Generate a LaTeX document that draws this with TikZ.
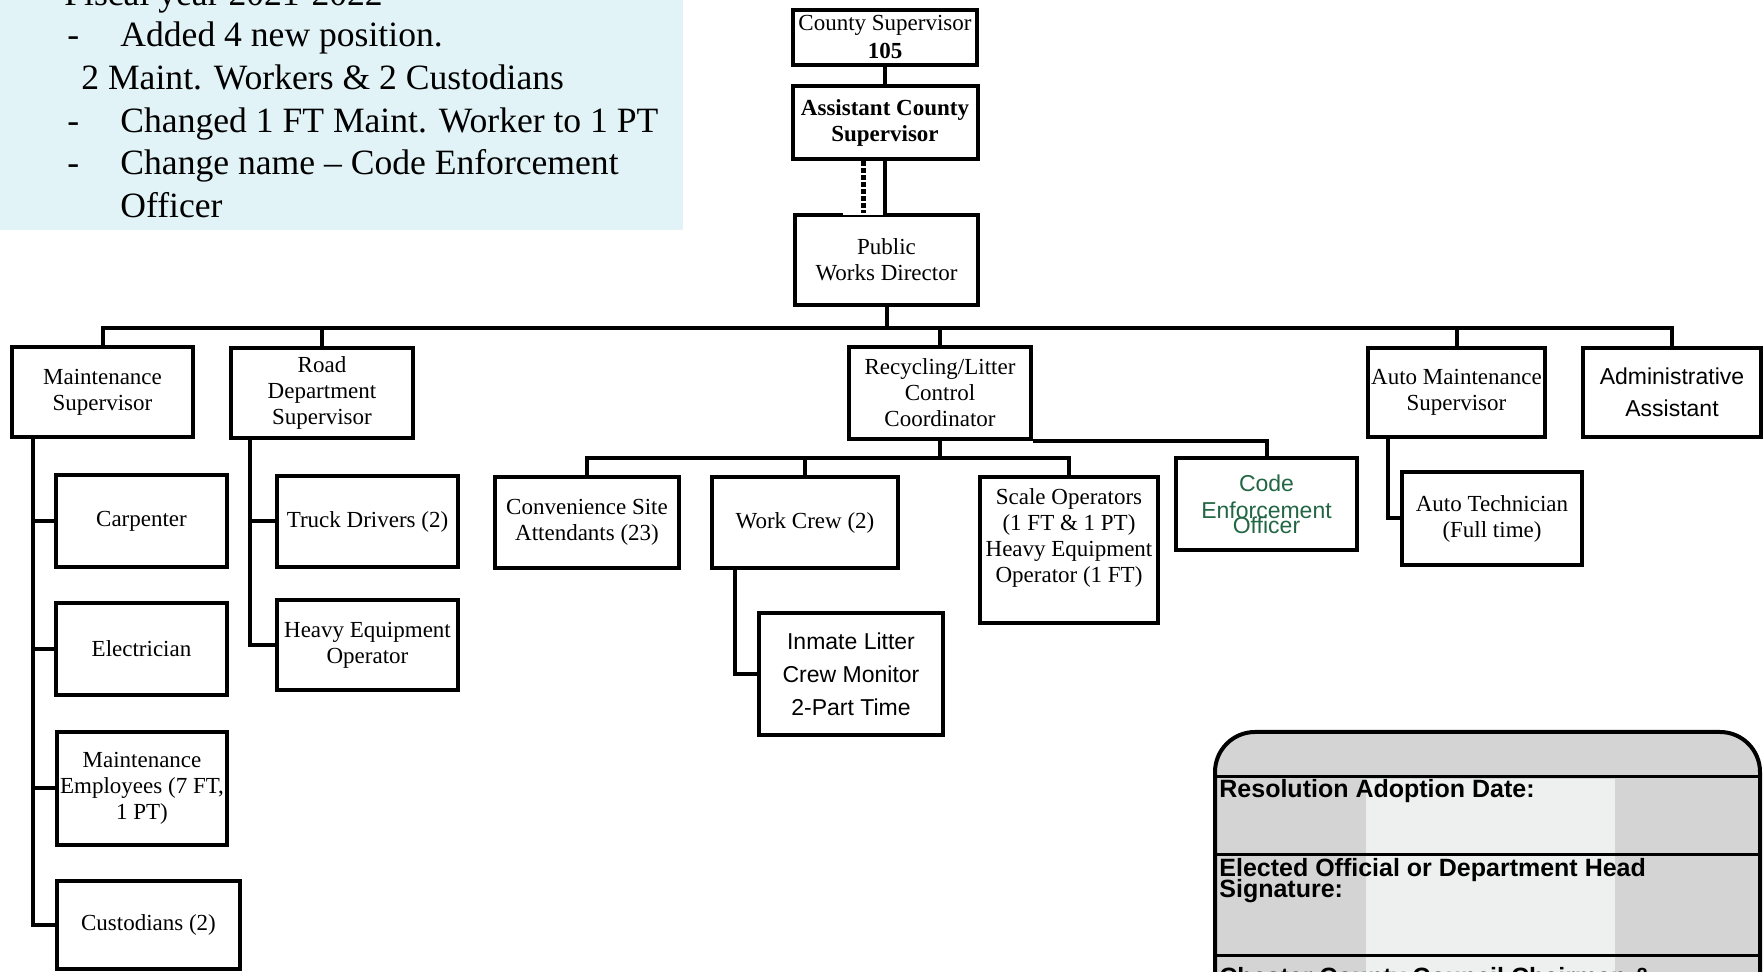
\documentclass[tikz,border=0pt]{standalone}
\usepackage{fontspec}
\setmainfont{Liberation Serif}
\setsansfont{Liberation Sans}
\usetikzlibrary{calc}
\definecolor{notebg}{RGB}{226,243,247}
\definecolor{codegreen}{RGB}{34,102,68}
\definecolor{sealgray}{RGB}{212,212,212}
\definecolor{sealpale}{RGB}{238,240,240}

\tikzset{
  unit/.style={draw, line width=2pt, fill=white, align=center, inner sep=0pt,
    font=\fontsize{11.5}{13}\selectfont},
  sansunit/.style={unit, font=\sffamily\fontsize{11.5}{16}\selectfont},
  wh/.style 2 args={minimum width=#1*0.5pt, minimum height=#2*0.5pt},
  link/.style={line width=2pt},
  dotlink/.style={line width=2.5pt, dash pattern=on 2.5pt off 1pt},
  note/.style={anchor=base west, inner sep=0pt, font=\fontsize{17.8}{20}\selectfont},
  seal/.style={anchor=base west, inner sep=0pt, font=\sffamily\bfseries\fontsize{12.5}{13}\selectfont},
}

\begin{document}
\begin{tikzpicture}[x=0.5pt, y=-0.5pt]
\useasboundingbox (0,0) rectangle (1763,972);

% change notes (top left)
\fill[notebg] (0,0) rectangle (683,230);
\node[note] (fy) at (64,6) {Fiscal year 2021-2022};
\node[note] (d1) at (67,47) {-};
\node[note] (n1) at (120,47) {Added 4 new position.};
\node[note] (n2) at (81,90) {2 Maint. Workers \& 2 Custodians};
\node[note] (d2) at (67,133) {-};
\node[note] (n3) at (120,133) {Changed 1 FT Maint. Worker to 1 PT};
\node[note] (d3) at (67,175) {-};
\node[note] (n4) at (120,175) {Change name \textendash{} Code Enforcement};
\node[note] (n5) at (120,218) {Officer};

% top of the chart
\node[unit, wh={184}{55}, font=\fontsize{11.5}{14}\selectfont] (cs) at (885,37.5) {County Supervisor\\\textbf{105}};
\node[unit, wh={185}{73}, font=\bfseries\fontsize{11.5}{13}\selectfont] (acs) at (885,122.5) {Assistant County\\Supervisor};
\node[unit, wh={183}{90}] (pwd) at (886.5,260) {Public\\Works Director};

% first row
\node[unit, wh={181}{90}] (maint) at (102.5,392) {Maintenance\\Supervisor};
\node[unit, wh={182}{90}] (road) at (322,393) {Road\\Department\\Supervisor};
\node[unit, wh={182}{92}] (rec) at (940,393) {Recycling/Litter\\Control\\Coordinator};
\node[unit, wh={177}{89}] (ams) at (1456.5,392.5) {Auto Maintenance\\Supervisor};
\node[sansunit, wh={178}{89}] (admin) at (1672,392.5) {Administrative\\Assistant};

% maintenance staff
\node[unit, wh={171}{92}] (carp) at (141.5,521) {Carpenter};
\node[unit, wh={171}{92}] (elec) at (141.5,649) {Electrician};
\node[unit, wh={170}{113}] (memp) at (142,788.5) {Maintenance\\Employees (7 FT,\\1 PT)};
\node[unit, wh={183}{88}] (cust) at (148.5,925) {Custodians (2)};

% road department
\node[unit, wh={181}{91}] (truck) at (367.5,521.5) {Truck Drivers (2)};
\node[unit, wh={181}{90}] (heo) at (367.5,645) {Heavy Equipment\\Operator};

% recycling / litter
\node[unit, wh={184}{91}] (conv) at (587,522.5) {Convenience Site\\Attendants (23)};
\node[unit, wh={186}{91}] (crew) at (805,522.5) {Work Crew (2)};
\node[unit, wh={178}{146}, text depth=14pt] (scale) at (1069,550) {Scale Operators\\(1 FT \& 1 PT)\\Heavy Equipment\\Operator (1 FT)};
\node[sansunit, wh={181}{92}, text=codegreen, font=\sffamily\fontsize{11.5}{13.5}\selectfont] (code) at (1266.5,504) {Code\\Enforcement\\[-6pt]Officer};
\node[sansunit, wh={184}{122}, font=\sffamily\fontsize{11.5}{16.5}\selectfont] (inmate) at (851,674) {Inmate Litter\\Crew Monitor\\2-Part Time};

% auto maintenance
\node[unit, wh={180}{93}] (tech) at (1492,518.5) {Auto Technician\\(Full time)};

% upper links
\draw[link] (cs.south) -- (acs.north);
\draw[link] (acs.south) -- (acs.south |- pwd.north);
\draw[white, line width=2.5pt] ($(pwd.north west)+(50,0)$) -- ($(pwd.north)+(-4,0)$);
\draw[dotlink] ($(acs.south)+(-22,0)$) -- ($(acs.south |- pwd.north)+(-22,0)$);

% main bar
\coordinate (bar) at (0,328);
\draw[link] (pwd.south) -- (pwd.south |- bar);
\draw[link] (maint.north) |- (bar -| admin.north) -- (admin.north);
\foreach \n in {road, rec, ams}
  \draw[link] (\n.north) -- (\n.north |- bar);

% maintenance spine
\coordinate (mspine) at ($(maint.south)+(-70,0)$);
\draw[link] (mspine) |- (cust.west);
\foreach \n in {carp, elec, memp}
  \draw[link] (\n.west) -- (\n.west -| mspine);

% road spine
\coordinate (rspine) at ($(road.south)+(-72,0)$);
\draw[link] (rspine) |- (heo.west);
\draw[link] (truck.west) -- (truck.west -| rspine);

% recycling bar
\coordinate (subbar) at (0,458);
\draw[link] (rec.south) -- (rec.south |- subbar);
\draw[link] (conv.north) |- (subbar -| scale.north) -- (scale.north);
\draw[link] (crew.north) -- (crew.north |- subbar);
\draw[link] (rec.south east) -| (code.north);
\draw[link] ($(crew.south)+(-70,0)$) |- (inmate.west);

% auto technician
\draw[link] ($(ams.south)+(-68.5,0)$) |- (tech.west);

% resolution stamp (bottom right)
\fill[sealgray, rounded corners=20pt] (1215,1010) -- (1215,732) -- (1760,732) -- (1760,1010) -- cycle;
\fill[sealpale] (1366,779) rectangle (1615,1010);
\draw[line width=2pt, rounded corners=20pt] (1215,1010) -- (1215,732) -- (1760,732) -- (1760,1010);
\draw[line width=1.5pt] (1215,777) -- (1760,777);
\draw[line width=1.5pt] (1215,855) -- (1760,855);
\draw[line width=1.5pt] (1215,955) -- (1760,955);
\node[seal] (adopt) at (1219,798) {Resolution Adoption Date:};
\node[seal] (signer) at (1219,877) {Elected Official or Department Head};
\node[seal] (signed) at (1219,898) {Signature:};
\node[seal] (chair) at (1219,985) {Chester County Council Chairman \&};
\end{tikzpicture}
\end{document}
